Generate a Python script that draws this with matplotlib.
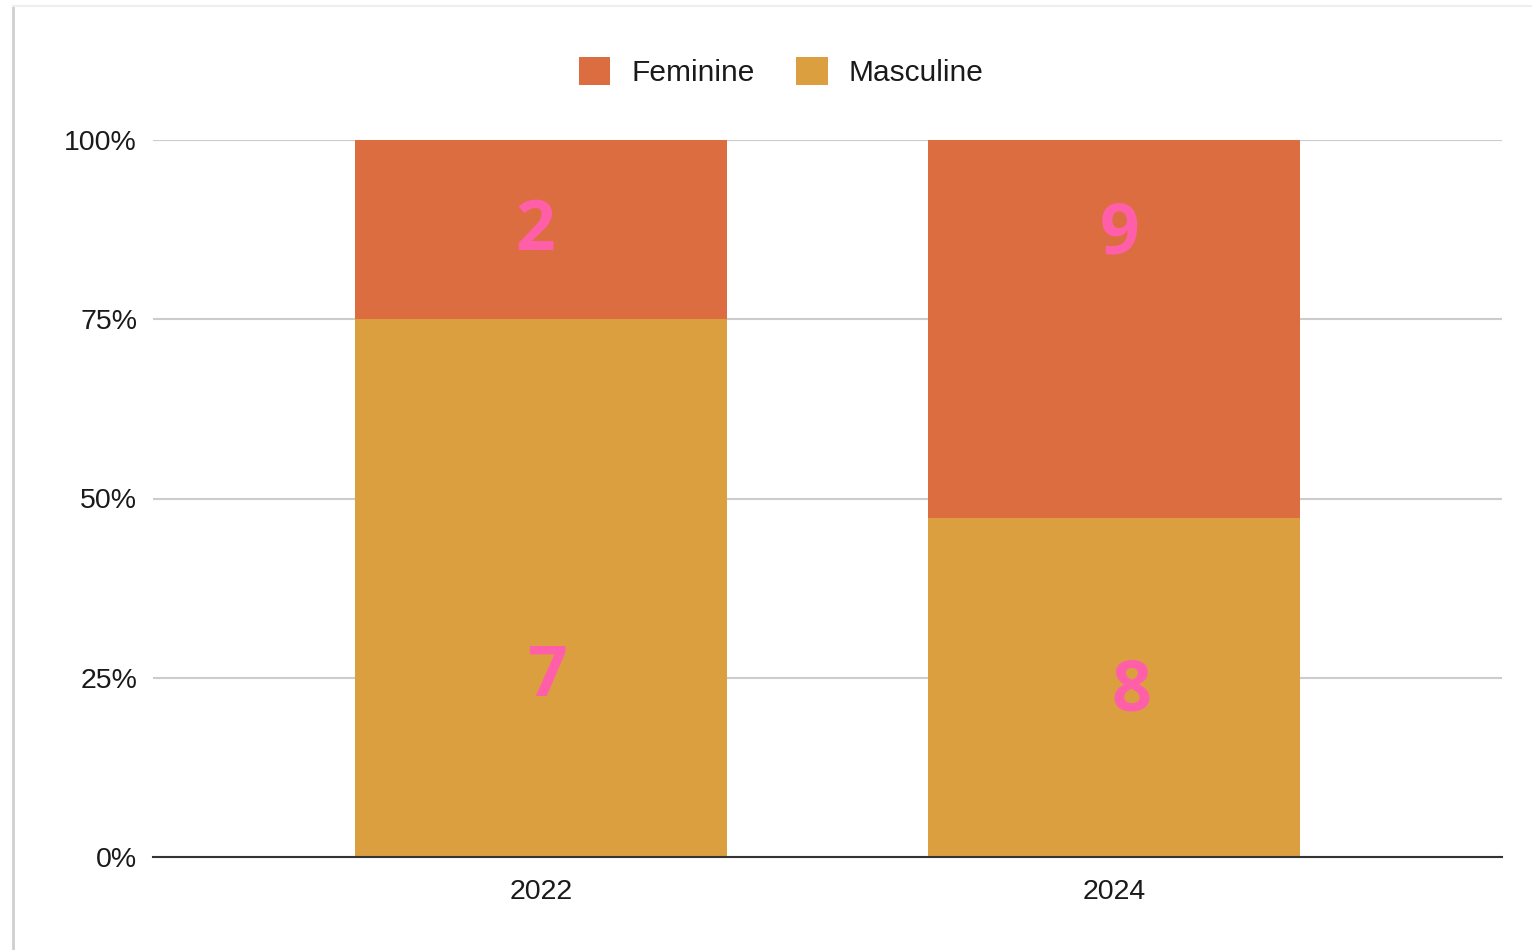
import numpy as np
import matplotlib.pyplot as plt
from matplotlib.lines import Line2D

# dati (quota percentuale)
anni = ["2022", "2024"]
masculine = [0.75, 0.473]
feminine = [0.25, 0.527]
# etichette scritte a mano sopra le barre
etichette_f = ["2", "9"]
etichette_m = ["7", "8"]
pos_f = [0.872, 0.867]
pos_m = [0.249, 0.229]
dx_f = [-0.01, 0.01]
dx_m = [0.01, 0.03]

col_f = "#DB6D41"
col_m = "#DC9F40"
rosa = "#FF5FA8"

plt.rcParams['font.family'] = ['Liberation Sans', 'DejaVu Sans']

fig = plt.figure(figsize=(15.32, 9.5), dpi=100)
ax = fig.add_axes([153/1532, 93/950, 1349/1532, 717/950])

x = np.arange(len(anni))
ax.bar(x, masculine, width=0.649, color=col_m, label="Masculine", zorder=3)
ax.bar(x, feminine, width=0.649, bottom=masculine, color=col_f, label="Feminine", zorder=3)

for i in range(len(anni)):
    ax.text(x[i] + dx_f[i], pos_f[i], etichette_f[i], color=rosa, fontsize=50,
            fontweight="bold", ha="center", va="center", family="Open Sans", zorder=4)
    ax.text(x[i] + dx_m[i], pos_m[i], etichette_m[i], color=rosa, fontsize=50,
            fontweight="bold", ha="center", va="center", family="Open Sans", zorder=4)

ax.set_xlim(-0.677, 1.677)
ax.set_ylim(0, 1)
ax.set_yticks([0, 0.25, 0.5, 0.75, 1.0])
ax.set_yticklabels(["0%", "25%", "50%", "75%", "100%"])
ax.set_xticks(x)
ax.set_xticklabels(anni)
ax.tick_params(axis="y", length=0, pad=11.5, labelsize=20.5, labelcolor="#1A1A1A")
ax.tick_params(axis="x", length=0, pad=16, labelsize=20.5, labelcolor="#1A1A1A")
ax.grid(axis="y", color="#CCCCCC", linewidth=1.5, zorder=0)
for s in ["top", "right", "left"]:
    ax.spines[s].set_visible(False)
ax.spines["bottom"].set_color("#333333")
ax.spines["bottom"].set_linewidth(1.5)
ax.spines["bottom"].set_zorder(5)

handles, labels = ax.get_legend_handles_labels()
fig.legend(handles[::-1], labels[::-1], loc="center", bbox_to_anchor=(0.51, 1 - 72/950),
           ncol=2, frameon=False, fontsize=21.5, handlelength=1.05, handleheight=1.05,
           handletextpad=0.7, columnspacing=1.4, labelcolor="#1A1A1A")

# bordo dello screenshot
fig.add_artist(Line2D([13/1532, 13/1532], [0, 1 - 6/950], color="#CFCFCF", linewidth=2,
                      transform=fig.transFigure))
fig.add_artist(Line2D([13/1532, 1], [1 - 6/950, 1 - 6/950], color="#EEEEEE", linewidth=1.5,
                      transform=fig.transFigure))

fig.savefig("out.png", dpi=100)
